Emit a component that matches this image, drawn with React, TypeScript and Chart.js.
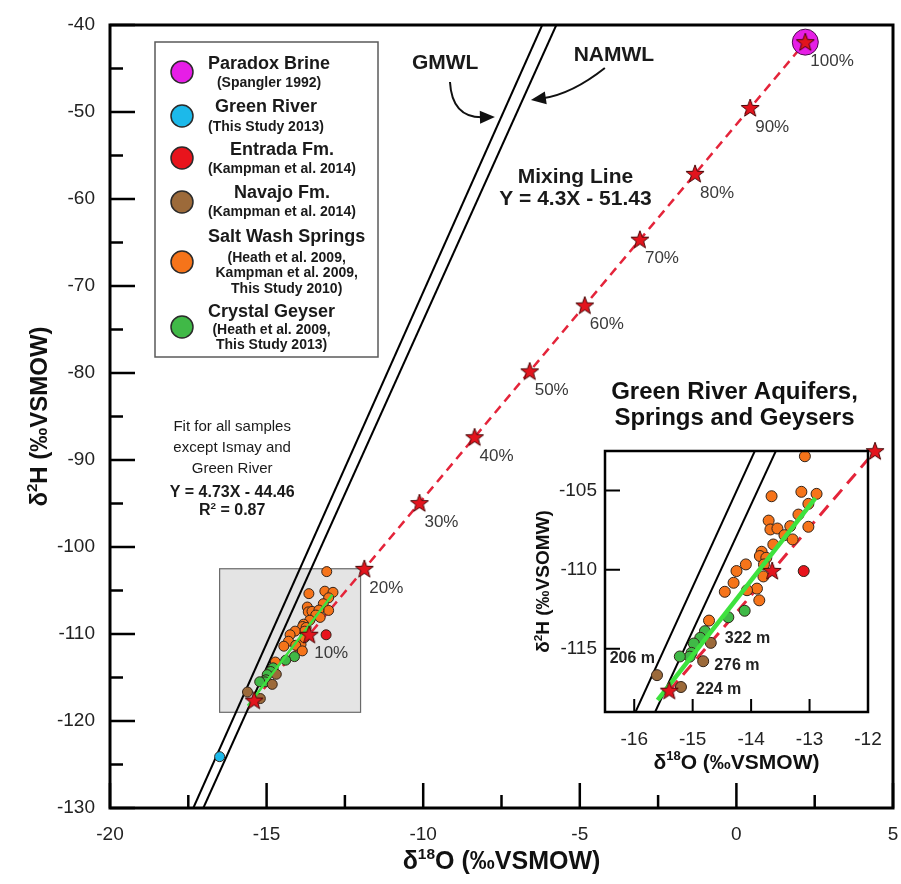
import React, { useEffect, useRef } from 'react';
import { Chart, registerables } from 'chart.js';

Chart.register(...registerables);

const FONT = '"Liberation Sans", Arial, Helvetica, sans-serif';

// ---------- main axes ----------
const X_MIN = -20;
const X_MAX = 5;
const Y_MIN = -130;
const Y_MAX = -40;
const X_TICKS = [-20, -15, -10, -5, 0, 5];
const X_MINOR = [-17.5, -12.5, -7.5, -2.5, 2.5];
const Y_TICKS = [-130, -120, -110, -100, -90, -80, -70, -60, -50, -40];
const Y_MINOR = [-125, -115, -105, -95, -85, -75, -65, -55, -45];

// ---------- inset axes ----------
const INSET_X_RANGE = [-16.5, -12];
const INSET_Y_RANGE = [-119, -102.5];
const INSET_X_TICKS = [-16, -15, -14, -13, -12];
const INSET_X_MARKS = [-16, -15, -14, -13];
const INSET_Y_TICKS = [-115, -110, -105];

// ---------- reference lines ----------
const GMWL_X = [-17.34, -6.2];
const GMWL_Y = [-130, -40];
const NAMWL_X = [-17.02, -5.75];
const NAMWL_Y = [-130, -40];

// mixing line (Y = 4.3X - 51.43), stars at 0..100 %
const MIX_X = [-15.4, -13.64, -11.88, -10.12, -8.36, -6.6, -4.84, -3.08, -1.32, 0.44, 2.2];
const MIX_Y = [-117.65, -110.08, -102.51, -94.95, -87.38, -79.81, -72.24, -64.67, -57.11, -49.54, -41.97];
const MIX_LABELS = ['', '10%', '20%', '30%', '40%', '50%', '60%', '70%', '80%', '90%', '100%'];

// fit line (Y = 4.73X - 44.46)
const FIT_X = [-15.6, -12.9];
const FIT_Y = [-118.25, -105.48];

// ---------- samples ----------
const SALT_X = [-13.08, -13.65, -13.14, -12.88, -13.02, -13.19, -13.02, -13.7, -13.67, -13.55, -13.33, -13.43, -13.29, -13.62, -13.82, -13.85, -13.74, -13.78, -14.09, -14.25, -14.3, -14.45, -13.9, -14.07, -13.86, -13.79, -14.72];
const SALT_Y = [-102.83, -105.36, -105.08, -105.21, -105.84, -106.52, -107.29, -106.9, -107.46, -107.4, -107.25, -107.82, -108.09, -108.41, -108.87, -109.14, -109.25, -109.67, -109.67, -110.09, -110.83, -111.4, -111.2, -111.3, -111.94, -110.43, -113.22];
const GEYSER_X = [-14.11, -14.39, -14.79, -14.87, -14.98, -15.02, -15.05, -15.22];
const GEYSER_Y = [-112.6, -113.01, -113.89, -114.31, -114.67, -115.26, -115.5, -115.49];
const NAVAJO_X = [-14.69, -14.82, -15.61, -15.2];
const NAVAJO_Y = [-114.63, -115.79, -116.67, -117.42];
const NAVAJO_DEPTHS = ['322 m', '276 m', '206 m', '224 m'];
const ENTRADA_X = [-13.1];
const ENTRADA_Y = [-110.09];
const GREEN_RIVER_X = [-16.5];
const GREEN_RIVER_Y = [-124.1];
const PARADOX_X = [2.2];
const PARADOX_Y = [-41.97];

// ---------- legend ----------
const LEGEND_NAMES = ['Paradox Brine', 'Green River', 'Entrada Fm.', 'Navajo Fm.', 'Salt Wash Springs', 'Crystal Geyser'];
const LEGEND_SOURCES = [
  ['(Spangler 1992)'],
  ['(This Study 2013)'],
  ['(Kampman et al. 2014)'],
  ['(Kampman et al. 2014)'],
  ['(Heath et al. 2009,', 'Kampman et al. 2009,', 'This Study 2010)'],
  ['(Heath et al. 2009,', 'This Study 2013)'],
];

const C_MAGENTA = '#e61ee6';
const C_BLUE = '#1cb9ea';
const C_RED = '#e8141c';
const C_BROWN = '#9c6a3a';
const C_ORANGE = '#f6741a';
const C_GREEN = '#40b947';
const LEGEND_COLORS = [C_MAGENTA, C_BLUE, C_RED, C_BROWN, C_ORANGE, C_GREEN];
const POINT_BORDER = '#33241a';

// layout (pixels)
const LEGEND_BOX = { l: 155, t: 42, r: 378, b: 357 };
const LEGEND_CIRCLE_X = 182;
const LEGEND_TEXT_LEFT = 208;
const LEGEND_CIRCLE_Y = [72, 116, 158, 202, 262, 327];
const LEGEND_TITLE_Y = [64, 107, 150, 193, 237, 312];
const LEGEND_SUB_Y = [83, 127, 169, 212, 258, 330];
const DEPTH_OFFSETS = [[14, -4, 'left'], [11, 4, 'left'], [-2, -17, 'right'], [15, 3, 'left']];

function pts(xs: number[], ys: number[]) {
  return xs.map((x, i) => ({ x, y: ys[i] }));
}

function makeStar(): HTMLCanvasElement {
  const c = document.createElement('canvas');
  c.width = 22;
  c.height = 22;
  const g = c.getContext('2d')!;
  const R = 9.5, r = 3.9, cx = 11, cy = 11.5;
  g.beginPath();
  for (let i = 0; i < 10; i++) {
    const rad = i % 2 === 0 ? R : r;
    const a = -Math.PI / 2 + (i * Math.PI) / 5;
    const px = cx + rad * Math.cos(a);
    const py = cy + rad * Math.sin(a);
    if (i === 0) g.moveTo(px, py);
    else g.lineTo(px, py);
  }
  g.closePath();
  g.fillStyle = '#e3141d';
  g.fill();
  g.lineWidth = 1;
  g.strokeStyle = '#4a0606';
  g.stroke();
  return c;
}

type Part = { t: string; sup?: boolean };
function drawRich(ctx: CanvasRenderingContext2D, parts: Part[], x: number, y: number, size: number, bold: boolean) {
  const f = (s: number) => `${bold ? 'bold ' : ''}${s}px ${FONT}`;
  let total = 0;
  const widths: number[] = [];
  for (const p of parts) {
    ctx.font = f(p.sup ? size * 0.62 : size);
    const w = ctx.measureText(p.t).width;
    widths.push(w);
    total += w;
  }
  let cx = x - total / 2;
  ctx.textAlign = 'left';
  ctx.textBaseline = 'middle';
  parts.forEach((p, i) => {
    ctx.font = f(p.sup ? size * 0.62 : size);
    ctx.fillText(p.t, cx, p.sup ? y - size * 0.3 : y);
    cx += widths[i];
  });
}

function text(ctx: CanvasRenderingContext2D, s: string, x: number, y: number, font: string, align: CanvasTextAlign = 'center', color = '#1a1a1a') {
  ctx.font = font;
  ctx.fillStyle = color;
  ctx.textAlign = align;
  ctx.textBaseline = 'middle';
  ctx.fillText(s, x, y);
}

function drawArrow(ctx: CanvasRenderingContext2D, p0: number[], c: number[], p2: number[]) {
  const ang = Math.atan2(p2[1] - c[1], p2[0] - c[0]);
  const L = 15, W = 6.5;
  const ex = p2[0] - (L - 3) * Math.cos(ang);
  const ey = p2[1] - (L - 3) * Math.sin(ang);
  ctx.beginPath();
  ctx.moveTo(p0[0], p0[1]);
  ctx.quadraticCurveTo(c[0], c[1], ex, ey);
  ctx.stroke();
  ctx.beginPath();
  ctx.moveTo(p2[0], p2[1]);
  ctx.lineTo(p2[0] - L * Math.cos(ang) + W * Math.sin(ang), p2[1] - L * Math.sin(ang) - W * Math.cos(ang));
  ctx.lineTo(p2[0] - L * Math.cos(ang) - W * Math.sin(ang), p2[1] - L * Math.sin(ang) + W * Math.cos(ang));
  ctx.closePath();
  ctx.fill();
}

// annotation anchors in data coordinates
const GMWL_ARROW = [[-9.145, -46.55], [-9.08, -50.69], [-7.71, -50.57]];
const NAMWL_ARROW = [[-4.2, -44.94], [-5.25, -47.93], [-6.56, -48.62]];

const mainDecor = {
  id: 'mainDecor',
  beforeDatasetsDraw(chart: any) {
    const { ctx } = chart;
    const xs = chart.scales.x, ys = chart.scales.y;
    const l = xs.getPixelForValue(INSET_X_RANGE[0]);
    const r = xs.getPixelForValue(INSET_X_RANGE[1]);
    const t = ys.getPixelForValue(INSET_Y_RANGE[1]);
    const b = ys.getPixelForValue(INSET_Y_RANGE[0]);
    ctx.save();
    ctx.fillStyle = '#e4e4e4';
    ctx.fillRect(l, t, r - l, b - t);
    ctx.strokeStyle = '#6a6a6a';
    ctx.lineWidth = 1.2;
    ctx.strokeRect(l, t, r - l, b - t);
    ctx.restore();
  },
  afterDatasetsDraw(chart: any) {
    const { ctx, chartArea: a } = chart;
    const xs = chart.scales.x, ys = chart.scales.y;
    const P = (x: number, y: number) => [xs.getPixelForValue(x), ys.getPixelForValue(y)];
    ctx.save();
    // ticks
    ctx.strokeStyle = '#000';
    ctx.lineWidth = 2.5;
    ctx.beginPath();
    X_TICKS.forEach((v) => { const p = xs.getPixelForValue(v); ctx.moveTo(p, a.bottom); ctx.lineTo(p, a.bottom - 25); });
    X_MINOR.forEach((v) => { const p = xs.getPixelForValue(v); ctx.moveTo(p, a.bottom); ctx.lineTo(p, a.bottom - 13); });
    Y_TICKS.forEach((v) => { const p = ys.getPixelForValue(v); ctx.moveTo(a.left, p); ctx.lineTo(a.left + 25, p); });
    Y_MINOR.forEach((v) => { const p = ys.getPixelForValue(v); ctx.moveTo(a.left, p); ctx.lineTo(a.left + 13, p); });
    ctx.stroke();
    // frame
    ctx.lineWidth = 3;
    ctx.strokeRect(a.left, a.top, a.right - a.left, a.bottom - a.top);

    // percent labels
    MIX_LABELS.forEach((s, i) => {
      if (!s) return;
      const p = P(MIX_X[i], MIX_Y[i]);
      text(ctx, s, p[0] + 5, p[1] + 19, `17px ${FONT}`, 'left', '#3a3a3a');
    });

    // annotations
    const B21 = `bold 21px ${FONT}`;
    let p = P(-9.3, -44.37); text(ctx, 'GMWL', p[0], p[1], B21);
    p = P(-3.91, -43.45); text(ctx, 'NAMWL', p[0], p[1], B21);
    p = P(-5.14, -57.47); text(ctx, 'Mixing Line', p[0], p[1], B21);
    p = P(-5.14, -60.0); text(ctx, 'Y = 4.3X - 51.43', p[0], p[1], B21);

    p = P(-16.1, -86.2); text(ctx, 'Fit for all samples', p[0], p[1], `15px ${FONT}`);
    p = P(-16.1, -88.62); text(ctx, 'except Ismay and', p[0], p[1], `15px ${FONT}`);
    p = P(-16.1, -91.03); text(ctx, 'Green River', p[0], p[1], `15px ${FONT}`);
    p = P(-16.1, -93.79); text(ctx, 'Y = 4.73X - 44.46', p[0], p[1], `bold 16px ${FONT}`);
    p = P(-16.1, -95.86);
    ctx.fillStyle = '#1a1a1a';
    drawRich(ctx, [{ t: 'R' }, { t: '2', sup: true }, { t: ' = 0.87' }], p[0], p[1], 16, true);

    // arrows
    ctx.strokeStyle = '#111';
    ctx.fillStyle = '#111';
    ctx.lineWidth = 2;
    drawArrow(ctx, P(GMWL_ARROW[0][0], GMWL_ARROW[0][1]), P(GMWL_ARROW[1][0], GMWL_ARROW[1][1]), P(GMWL_ARROW[2][0], GMWL_ARROW[2][1]));
    drawArrow(ctx, P(NAMWL_ARROW[0][0], NAMWL_ARROW[0][1]), P(NAMWL_ARROW[1][0], NAMWL_ARROW[1][1]), P(NAMWL_ARROW[2][0], NAMWL_ARROW[2][1]));

    // legend
    const L = LEGEND_BOX;
    ctx.fillStyle = '#fff';
    ctx.fillRect(L.l, L.t, L.r - L.l, L.b - L.t);
    ctx.strokeStyle = '#5a5a5a';
    ctx.lineWidth = 1.5;
    ctx.strokeRect(L.l, L.t, L.r - L.l, L.b - L.t);
    LEGEND_NAMES.forEach((name, i) => {
      ctx.beginPath();
      ctx.arc(LEGEND_CIRCLE_X, LEGEND_CIRCLE_Y[i], 11, 0, Math.PI * 2);
      ctx.fillStyle = LEGEND_COLORS[i];
      ctx.fill();
      ctx.lineWidth = 1.5;
      ctx.strokeStyle = '#2a2a2a';
      ctx.stroke();
      const tf = `bold 18px ${FONT}`;
      const sf = `bold 14px ${FONT}`;
      ctx.font = tf;
      let maxW = ctx.measureText(name).width;
      ctx.font = sf;
      LEGEND_SOURCES[i].forEach((s) => { maxW = Math.max(maxW, ctx.measureText(s).width); });
      const cx = LEGEND_TEXT_LEFT + maxW / 2;
      text(ctx, name, cx, LEGEND_TITLE_Y[i], tf);
      LEGEND_SOURCES[i].forEach((s, j) => text(ctx, s, cx, LEGEND_SUB_Y[i] + j * 15.5, sf));
    });

    // axis titles
    ctx.fillStyle = '#111';
    drawRich(ctx, [{ t: 'δ' }, { t: '18', sup: true }, { t: 'O (‰VSMOW)' }], (a.left + a.right) / 2, 862, 25, true);
    ctx.translate(40, (a.top + a.bottom) / 2);
    ctx.rotate(-Math.PI / 2);
    drawRich(ctx, [{ t: 'δ' }, { t: '2', sup: true }, { t: 'H (‰VSMOW)' }], 0, 0, 24, true);
    ctx.restore();
  },
};

const insetDecor = {
  id: 'insetDecor',
  beforeDatasetsDraw(chart: any) {
    const { ctx, chartArea: a } = chart;
    ctx.save();
    ctx.fillStyle = '#fff';
    ctx.fillRect(a.left, a.top, a.right - a.left, a.bottom - a.top);
    ctx.restore();
  },
  afterDatasetsDraw(chart: any) {
    const { ctx, chartArea: a } = chart;
    const xs = chart.scales.x, ys = chart.scales.y;
    ctx.save();
    ctx.strokeStyle = '#000';
    ctx.lineWidth = 2;
    ctx.beginPath();
    INSET_X_MARKS.forEach((v) => { const p = xs.getPixelForValue(v); ctx.moveTo(p, a.bottom); ctx.lineTo(p, a.bottom - 13); });
    INSET_Y_TICKS.forEach((v) => { const p = ys.getPixelForValue(v); ctx.moveTo(a.left, p); ctx.lineTo(a.left + 15, p); });
    ctx.stroke();
    ctx.lineWidth = 2.5;
    ctx.strokeRect(a.left, a.top, a.right - a.left, a.bottom - a.top);

    // depth labels
    NAVAJO_DEPTHS.forEach((s, i) => {
      const o = DEPTH_OFFSETS[i];
      const px = xs.getPixelForValue(NAVAJO_X[i]) + (o[0] as number);
      const py = ys.getPixelForValue(NAVAJO_Y[i]) + (o[1] as number);
      text(ctx, s, px, py, `bold 16px ${FONT}`, o[2] as CanvasTextAlign, '#222');
    });

    // titles
    const cx = (a.left + a.right) / 2;
    text(ctx, 'Green River Aquifers,', cx - 2, 17, `bold 24px ${FONT}`, 'center', '#111');
    text(ctx, 'Springs and Geysers', cx - 2, 43, `bold 24px ${FONT}`, 'center', '#111');
    ctx.fillStyle = '#111';
    drawRich(ctx, [{ t: 'δ' }, { t: '18', sup: true }, { t: 'O (‰VSMOW)' }], cx, 388, 21, true);
    ctx.translate(24, (a.top + a.bottom) / 2);
    ctx.rotate(-Math.PI / 2);
    drawRich(ctx, [{ t: 'δ' }, { t: '2', sup: true }, { t: 'H (‰VSOMW)' }], 0, 0, 19, true);
    ctx.restore();
  },
};

function sampleDatasets(r: number) {
  const base = { borderColor: POINT_BORDER, borderWidth: 1, pointRadius: r, pointHoverRadius: r };
  return [
    { ...base, label: 'Salt Wash Springs', data: pts(SALT_X, SALT_Y), backgroundColor: C_ORANGE, order: 6 },
    { ...base, label: 'Crystal Geyser', data: pts(GEYSER_X, GEYSER_Y), backgroundColor: C_GREEN, order: 5 },
    { ...base, label: 'Navajo Fm.', data: pts(NAVAJO_X, NAVAJO_Y), backgroundColor: C_BROWN, order: 4 },
    { ...base, label: 'Entrada Fm.', data: pts(ENTRADA_X, ENTRADA_Y), backgroundColor: C_RED, order: 3 },
  ];
}

function lineDs(label: string, xs: number[], ys: number[], color: string, width: number, order: number, dash: number[] = []) {
  return { label, data: pts(xs, ys), showLine: true, borderColor: color, borderWidth: width, borderDash: dash, pointRadius: 0, pointHoverRadius: 0, fill: false, order };
}

function axis(min: number, max: number, ticks: number[], fit: (s: any) => void, size: number, padding: number) {
  return {
    type: 'linear',
    min,
    max,
    afterBuildTicks: (s: any) => { s.ticks = ticks.map((value) => ({ value })); },
    afterFit: (s: any) => {
      fit(s);
      s.paddingLeft = 0;
      s.paddingRight = 0;
      s.paddingTop = 0;
      s.paddingBottom = 0;
    },
    grid: { display: false, drawTicks: false },
    border: { display: false },
    ticks: { font: { size, family: FONT }, color: '#222', padding, maxRotation: 0, autoSkip: false, callback: (v: any) => String(v) },
  };
}

export default function App() {
  const mainRef = useRef<HTMLCanvasElement>(null);
  const insetRef = useRef<HTMLCanvasElement>(null);

  useEffect(() => {
    document.body.style.margin = '0';
    Chart.defaults.font.family = FONT;
    const star = makeStar();

    const main = new Chart(mainRef.current!, {
      type: 'scatter',
      data: {
        datasets: [
          lineDs('GMWL', GMWL_X, GMWL_Y, '#000', 2, 12),
          lineDs('NAMWL', NAMWL_X, NAMWL_Y, '#000', 2, 11),
          lineDs('Mixing', MIX_X, MIX_Y, '#e4243a', 2.5, 10, [9, 6]),
          ...sampleDatasets(5),
          { label: 'Green River', data: pts(GREEN_RIVER_X, GREEN_RIVER_Y), backgroundColor: C_BLUE, borderColor: POINT_BORDER, borderWidth: 1, pointRadius: 5, order: 3 },
          lineDs('Fit', FIT_X, FIT_Y, '#3ee23e', 2.5, 2),
          { label: 'Paradox Brine', data: pts(PARADOX_X, PARADOX_Y), backgroundColor: C_MAGENTA, borderColor: '#4a0a4a', borderWidth: 1, pointRadius: 13, order: 1 },
          { label: 'Mix %', data: pts(MIX_X, MIX_Y), pointStyle: star, pointRadius: 9, order: 0, clip: false },
        ],
      },
      options: {
        responsive: false,
        animation: false,
        devicePixelRatio: 1,
        events: [],
        layout: { autoPadding: false, padding: { top: 25, right: 8, bottom: 0, left: 0 } },
        plugins: { legend: { display: false }, tooltip: { enabled: false } },
        scales: {
          x: axis(X_MIN, X_MAX, X_TICKS, (s: any) => { s.height = 76; }, 19, 15),
          y: axis(Y_MIN, Y_MAX, Y_TICKS, (s: any) => { s.width = 110; }, 19, 15),
        },
      } as any,
      plugins: [mainDecor],
    } as any);

    const inset = new Chart(insetRef.current!, {
      type: 'scatter',
      data: {
        datasets: [
          lineDs('GMWL', GMWL_X, GMWL_Y, '#000', 2, 12),
          lineDs('NAMWL', NAMWL_X, NAMWL_Y, '#000', 2, 11),
          lineDs('Mixing', MIX_X.slice(0, 3), MIX_Y.slice(0, 3), '#e4243a', 3, 10, [13, 8]),
          ...sampleDatasets(5.5),
          lineDs('Fit', FIT_X, FIT_Y, '#3ee23e', 4.5, 2),
          { label: 'Mix %', data: pts(MIX_X.slice(0, 3), MIX_Y.slice(0, 3)), pointStyle: star, pointRadius: 9, order: 0, clip: false },
        ],
      },
      options: {
        responsive: false,
        animation: false,
        devicePixelRatio: 1,
        events: [],
        layout: { autoPadding: false, padding: { top: 76, right: 27, bottom: 0, left: 0 } },
        plugins: { legend: { display: false }, tooltip: { enabled: false } },
        scales: {
          x: axis(INSET_X_RANGE[0], INSET_X_RANGE[1], INSET_X_TICKS, (s: any) => { s.height = 73; }, 19, 16),
          y: axis(INSET_Y_RANGE[0], INSET_Y_RANGE[1], INSET_Y_TICKS, (s: any) => { s.width = 85; }, 19, 8),
        },
      } as any,
      plugins: [insetDecor],
    } as any);

    return () => {
      main.destroy();
      inset.destroy();
    };
  }, []);

  return (
    <div style={{ position: 'relative', width: 901, height: 884, background: '#fff' }}>
      <canvas ref={mainRef} width={901} height={884} style={{ position: 'absolute', left: 0, top: 0 }} />
      <canvas ref={insetRef} width={375} height={410} style={{ position: 'absolute', left: 520, top: 375 }} />
    </div>
  );
}
